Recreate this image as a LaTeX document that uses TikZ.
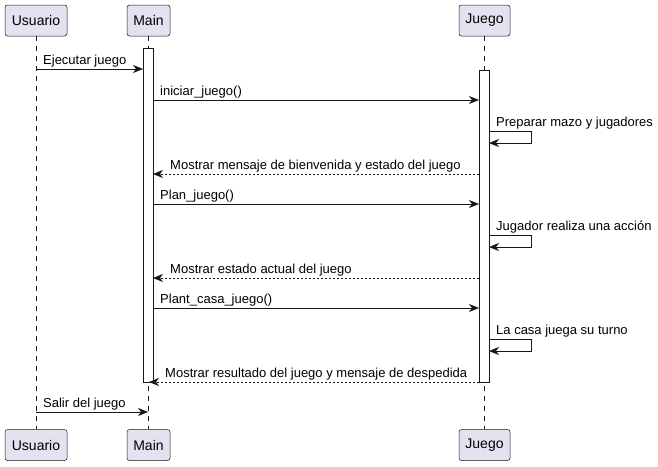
\documentclass[tikz,border=0pt]{standalone}
\usepackage{fontspec}
\setmainfont{Liberation Sans}
\usetikzlibrary{arrows.meta}
\definecolor{partfill}{HTML}{E2E2F0}
\definecolor{ink}{HTML}{181818}
\begin{document}
\begin{tikzpicture}[x=1pt,y=-1pt,
  part/.style={draw=ink, fill=partfill, rounded corners=2.5pt, line width=0.5pt,
    minimum height=31pt, inner sep=0pt, font=\fontsize{14}{16}\selectfont},
  life/.style={draw=ink, line width=0.5pt, dash pattern=on 5pt off 5pt},
  actbar/.style={draw=ink, fill=white, line width=1pt, minimum width=10pt, inner sep=0pt},
  msg/.style={draw=ink, line width=1pt, -{Stealth[length=10pt,width=8pt,inset=3pt]}},
  ret/.style={msg, dash pattern=on 2pt off 2pt},
  lbl/.style={anchor=base west, inner sep=0pt, font=\fontsize{13}{15}\selectfont}]
\useasboundingbox (0,0) rectangle (658,466);
\fill[white] (0,0) rectangle (658,466);
% participants
\node[part, minimum width=62pt] (uTop) at (36,20.5) {Usuario};
\node[part, minimum width=43pt] (mTop) at (148.5,20.5) {Main};
\node[part, minimum width=51pt] (jTop) at (484.5,20.5) {Juego};
\node[part, minimum width=62pt] (uBot) at (36,445) {Usuario};
\node[part, minimum width=43pt] (mBot) at (148.5,445) {Main};
\node[part, minimum width=51pt] (jBot) at (484.5,445) {Juego};
% lifelines
\draw[life] (uTop.south) -- (uBot.north);
\draw[life] (mTop.south) -- (mBot.north);
\draw[life] (jTop.south) -- (jBot.north);
% activation bars
\node[actbar, minimum height=334pt] (mAct) at (148,215) {};
\node[actbar, minimum height=312pt] (jAct) at (484,226) {};
% message endpoints
\coordinate (m1s) at (36,69);   \coordinate (m1e) at (143,69);
\coordinate (m2s) at (153,100); \coordinate (m2e) at (479,100);
\coordinate (s1a) at (489,131); \coordinate (s1b) at (531,131);
\coordinate (s1c) at (531,143); \coordinate (s1d) at (489,143);
\coordinate (m4s) at (479,174); \coordinate (m4e) at (153,174);
\coordinate (m5s) at (153,204); \coordinate (m5e) at (479,204);
\coordinate (s2a) at (489,235); \coordinate (s2b) at (531,235);
\coordinate (s2c) at (531,247); \coordinate (s2d) at (489,247);
\coordinate (m7s) at (479,278); \coordinate (m7e) at (153,278);
\coordinate (m8s) at (153,308); \coordinate (m8e) at (479,308);
\coordinate (s3a) at (489,339); \coordinate (s3b) at (531,339);
\coordinate (s3c) at (531,351); \coordinate (s3d) at (489,351);
\coordinate (m10s) at (479,382); \coordinate (m10e) at (149,382);
\coordinate (m11s) at (36,412); \coordinate (m11e) at (148,412);
% messages
\draw[msg] (m1s) -- (m1e);
\node[lbl] (t1) at (43,64) {Ejecutar juego};
\draw[msg] (m2s) -- (m2e);
\node[lbl] (t2) at (160,95) {iniciar\_juego()};
\draw[msg] (s1a) -- (s1b) -- (s1c) -- (s1d);
\node[lbl] (t3) at (496,126) {Preparar mazo y jugadores};
\draw[ret] (m4s) -- (m4e);
\node[lbl] (t4) at (170,169) {Mostrar mensaje de bienvenida y estado del juego};
\draw[msg] (m5s) -- (m5e);
\node[lbl] (t5) at (160,199) {Plan\_juego()};
\draw[msg] (s2a) -- (s2b) -- (s2c) -- (s2d);
\node[lbl] (t6) at (496,230) {Jugador realiza una acción};
\draw[ret] (m7s) -- (m7e);
\node[lbl] (t7) at (170,273) {Mostrar estado actual del juego};
\draw[msg] (m8s) -- (m8e);
\node[lbl] (t8) at (160,303) {Plant\_casa\_juego()};
\draw[msg] (s3a) -- (s3b) -- (s3c) -- (s3d);
\node[lbl] (t9) at (496,334) {La casa juega su turno};
\draw[ret] (m10s) -- (m10e);
\node[lbl] (t10) at (165,377) {Mostrar resultado del juego y mensaje de despedida};
\draw[msg] (m11s) -- (m11e);
\node[lbl] (t11) at (43,407) {Salir del juego};
\end{tikzpicture}
\end{document}
